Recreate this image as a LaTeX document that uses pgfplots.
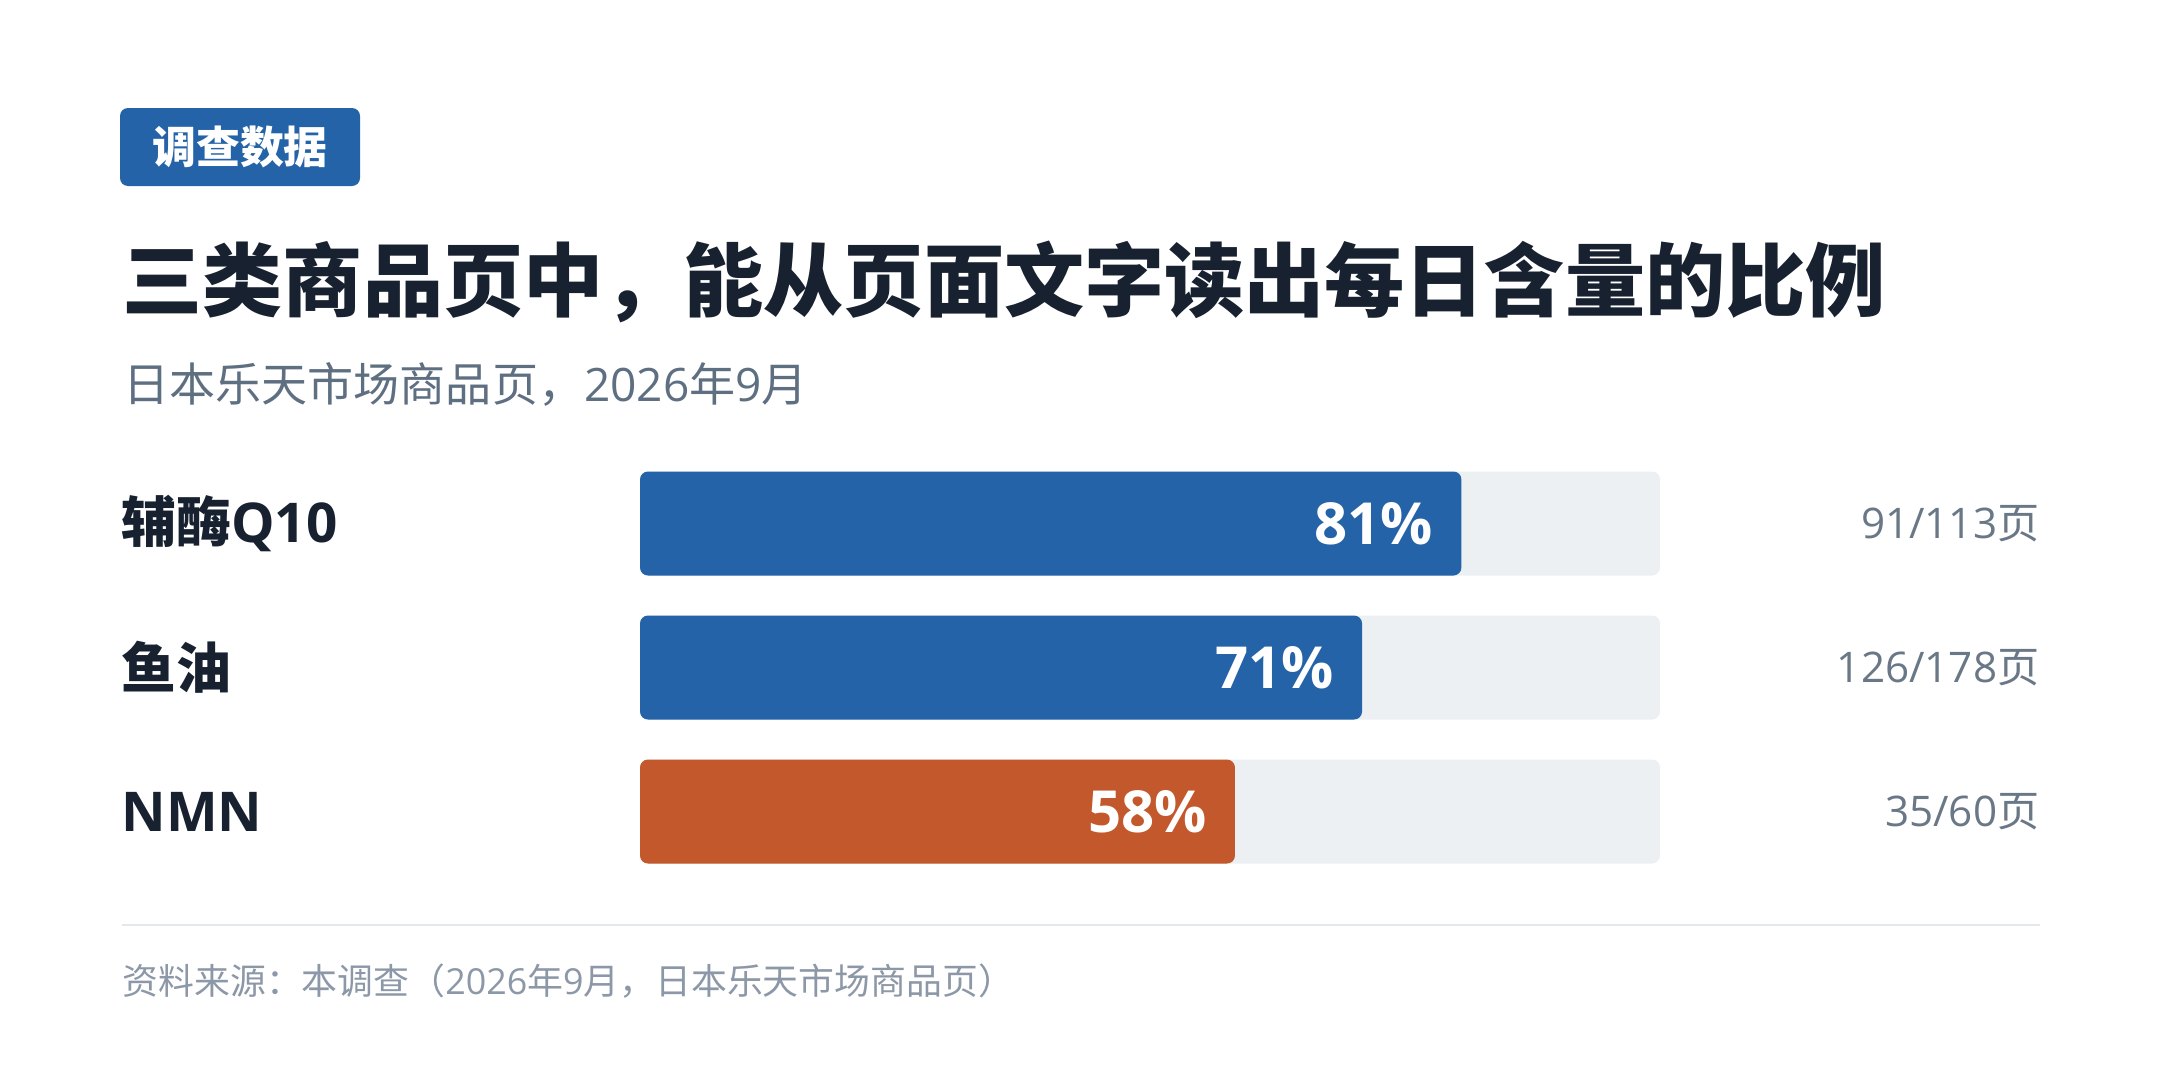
\documentclass[border=0pt]{standalone}
\usepackage{fontspec}
\usepackage{pgfplots}
\pgfplotsset{compat=1.18}
\setmainfont{Open Sans}
\newfontfamily\cjk{Noto Sans CJK SC}

\definecolor{barblue}{HTML}{2563A8}
\definecolor{barorange}{HTML}{C2582C}
\definecolor{track}{HTML}{ECF0F3}
\definecolor{ink}{HTML}{17212F}
\definecolor{subgray}{HTML}{5F6F82}
\definecolor{countgray}{HTML}{697786}
\definecolor{notegray}{HTML}{8C98A7}
\definecolor{rulegray}{HTML}{E3E8ED}

% 1 px of the 2160x1090 reference = 0.1 mm
\begin{document}
\begin{tikzpicture}
\useasboundingbox[fill=white] (0,0) rectangle (216mm,109mm);

% badge
\fill[barblue, rounded corners=0.8mm] (12mm,90.4mm) rectangle (36mm,98.2mm);
\node[text=white, font=\cjk\bfseries\fontsize{12.5pt}{14pt}\selectfont] at (24mm,94.3mm) {调查数据};

% title and subtitle
\node[anchor=west, inner sep=0pt, text=ink, font=\cjk\bfseries\fontsize{22.8pt}{26pt}\selectfont]
  at (12.2mm,80.8mm) {三类商品页中，能从页面文字读出每日含量的比例};
\node[anchor=west, inner sep=0pt, text=subgray, font=\fontsize{13.1pt}{15pt}\selectfont]
  at (12.3mm,70.6mm) {{\cjk 日本乐天市场商品页，}2026{\cjk 年}9{\cjk 月}};

\begin{axis}[
    at={(64mm,20.65mm)}, anchor=south west,
    scale only axis,
    width=102mm, height=43.2mm,
    xmin=0, xmax=100,
    ymin=-0.5, ymax=2.5,
    y dir=reverse,
    axis lines=none,
    xbar, bar width=10.4mm, bar shift=0pt,
    clip=false,
    point meta=explicit symbolic,
]
% grey track, 100 % wide
\addplot[fill=track, draw=none, rounded corners=0.8mm] coordinates {(100,0) (100,1) (100,2)};
% shares: 91/113, 126/178, 35/60
\addplot[fill=barblue, draw=none, rounded corners=0.8mm,
    nodes near coords,
    every node near coord/.append style={anchor=east, xshift=-1.6mm, text=white,
        font=\bfseries\fontsize{16.5pt}{18pt}\selectfont}]
  coordinates {(80.53,0) [81\%] (70.79,1) [71\%]};
\addplot[fill=barorange, draw=none, rounded corners=0.8mm,
    nodes near coords,
    every node near coord/.append style={anchor=east, xshift=-1.6mm, text=white,
        font=\bfseries\fontsize{16.5pt}{18pt}\selectfont}]
  coordinates {(58.33,2) [58\%]};

% category names and page counts
\begin{scope}[every node/.style={inner sep=0pt}]
\node[anchor=west, text=ink, font=\bfseries\fontsize{15.6pt}{18pt}\selectfont] at (axis cs:-50.9,0) {{\cjk 辅酶}Q10};
\node[anchor=west, text=ink, font=\bfseries\fontsize{15.6pt}{18pt}\selectfont] at (axis cs:-50.9,1) {{\cjk 鱼油}};
\node[anchor=west, text=ink, font=\bfseries\fontsize{15.6pt}{18pt}\selectfont] at (axis cs:-50.9,2) {NMN};
\node[anchor=east, text=countgray, font=\fontsize{12pt}{14pt}\selectfont] at (axis cs:137.25,0) {91/113{\cjk 页}};
\node[anchor=east, text=countgray, font=\fontsize{12pt}{14pt}\selectfont] at (axis cs:137.25,1) {126/178{\cjk 页}};
\node[anchor=east, text=countgray, font=\fontsize{12pt}{14pt}\selectfont] at (axis cs:137.25,2) {35/60{\cjk 页}};
\end{scope}
\end{axis}

% rule and source note
\draw[rulegray, line width=0.25mm] (12.2mm,16.5mm) -- (204mm,16.5mm);
\node[anchor=west, inner sep=0pt, text=notegray, font=\fontsize{10.2pt}{12pt}\selectfont]
  at (12.2mm,10.9mm) {{\cjk 资料来源：本调查（}2026{\cjk 年}9{\cjk 月，日本乐天市场商品页）}};
\end{tikzpicture}
\end{document}
